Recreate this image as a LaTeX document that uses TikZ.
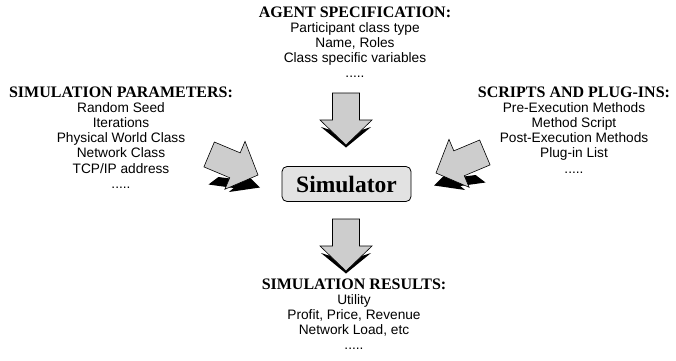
\documentclass[tikz,border=0pt]{standalone}
\usepackage{fontspec}
\setmainfont{Liberation Serif}
\setsansfont{Liberation Sans}
\definecolor{arrowgrey}{RGB}{205,205,205}
\definecolor{boxgrey}{RGB}{226,226,226}
\begin{document}
\begin{tikzpicture}[x=1pt,y=-1pt,
  hd/.style={inner sep=0pt, anchor=base, font=\fontsize{16}{15.2}\selectfont\rmfamily\bfseries},
  blk/.style={align=center, inner sep=0pt, anchor=base, font=\fontsize{13.7}{15.2}\selectfont\sffamily},
  barrow/.style={fill=arrowgrey, draw=black, line width=0.6pt, line join=miter},
  shade/.style={fill=black, draw=none},
]
\useasboundingbox (0,0) rectangle (676,360);

% text blocks (blk anchored at baseline of last line)
\node[hd] (agenthd) at (355,17) {AGENT SPECIFICATION:};
\node[blk] (agent) at (355,77.8) {Participant class type\\Name, Roles\\Class specific variables\\.....};

\node[hd] (paramhd) at (121,97) {SIMULATION PARAMETERS:};
\node[blk] (param) at (121,188.2) {Random Seed\\Iterations\\Physical World Class\\Network Class\\TCP/IP address\\.....};

\node[hd] (scripthd) at (574,97) {SCRIPTS AND PLUG-INS:};
\node[blk] (script) at (574,173) {Pre-Execution Methods\\Method Script\\Post-Execution Methods\\Plug-in List\\.....};

\node[hd] (resulthd) at (354,289) {SIMULATION RESULTS:};
\node[blk] (result) at (354,349.8) {Utility\\Profit, Price, Revenue\\Network Load, etc\\.....};

% simulator
\node[draw, fill=boxgrey, line width=0.8pt, rounded corners=5pt, minimum width=129pt, minimum height=35pt, inner sep=0pt,
  font=\fontsize{23.5}{25}\selectfont\rmfamily\bfseries] (sim) at (346.5,184) {Simulator};

% tips
\coordinate (toptip) at (346,145);
\coordinate (bottip) at (346,271);
\coordinate (lefttip) at (258,175);
\coordinate (righttip) at (436,173);

% vertical arrows
\foreach \t in {toptip,bottip}{
\begin{scope}[shift={(\t)}]
  \fill[shade] (-25,-18) -- (0,2.5) -- (25,-18) -- (0,-10) -- cycle;
  \draw[barrow] (-13.5,-52) -- (13.5,-52) -- (13.5,-25) -- (26,-25) -- (0,0) -- (-26,-25) -- (-13.5,-25) -- cycle;
\end{scope}
}

% diagonal arrows: shadows
\fill[shade] (260,187.5) -- (249,176.8) -- (244.2,180.3) -- (218.4,177) -- (208.5,184.5) -- (233.7,188) -- (228.9,192) -- cycle;
\fill[shade] (434,185.5) -- (445,174.8) -- (449.8,178.3) -- (475.6,175) -- (485.5,182.5) -- (460.3,186) -- (465.1,190) -- cycle;

\begin{scope}[shift={(lefttip)}, rotate=-22.8]
  \draw[barrow] (-53,-13.5) -- (-25,-13.5) -- (-25,-26) -- (0,0) -- (-25,26) -- (-25,13.5) -- (-53,13.5) -- cycle;
\end{scope}
\begin{scope}[shift={(righttip)}, rotate=202.8]
  \draw[barrow] (-53,-13.5) -- (-25,-13.5) -- (-25,-26) -- (0,0) -- (-25,26) -- (-25,13.5) -- (-53,13.5) -- cycle;
\end{scope}
\end{tikzpicture}
\end{document}
